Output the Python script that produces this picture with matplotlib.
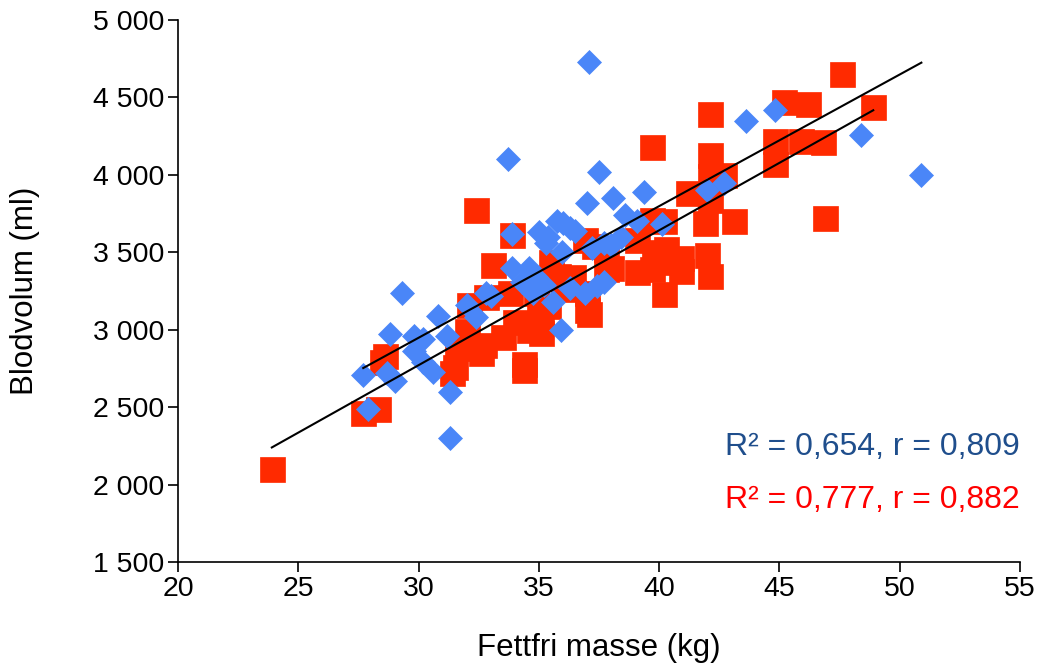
import matplotlib
matplotlib.use("Agg")
import matplotlib.pyplot as plt
from matplotlib.ticker import FuncFormatter, MultipleLocator
import numpy as np

plt.rcParams['font.family'] = ['Liberation Sans', 'DejaVu Sans']

# Red series (squares): fat-free mass (kg), blood volume (ml)
red_x = [23.9, 27.7, 28.3, 28.6, 28.5, 31.4, 31.5, 31.6, 32.0, 32.1, 32.4, 32.6, 32.7,
         32.8, 33.1, 33.5, 33.8, 33.9, 34.0, 34.4, 34.4, 34.6, 34.9, 35.0, 35.1, 35.1,
         35.4, 35.5, 35.8, 36.0, 36.4, 36.9, 37.0, 37.0, 37.1, 37.3, 37.8, 37.8, 38.0,
         39.1, 39.1, 39.7, 39.7, 39.7, 39.8, 40.2, 40.2, 40.3, 40.7, 40.9, 40.9, 41.2,
         41.9, 42.0, 42.1, 42.1, 42.1, 42.1, 42.7, 42.1, 43.1, 44.8, 44.8, 45.2, 45.9,
         46.2, 46.8, 46.9, 47.6, 48.9]
red_y = [2100, 2460, 2490, 2830, 2790, 2720, 2760, 2880, 2990, 3160, 3770, 2850, 2900,
         3210, 3420, 2950, 3240, 3610, 3050, 2780, 2740, 3000, 3240, 3100, 2980, 3080,
         3150, 3440, 3350, 3260, 3340, 3580, 3240, 3130, 3100, 3540, 3390, 3520, 3400,
         3370, 3580, 4180, 3710, 3390, 3500, 3700, 3230, 3520, 3440, 3460, 3380, 3880,
         3690, 3480, 3350, 4390, 4130, 3990, 4000, 3840, 3700, 4220, 4070, 4470, 4220,
         4460, 4210, 3720, 4650, 4440]

# Blue series (diamonds)
blue_x = [27.7, 27.9, 28.7, 28.8, 29.0, 29.3, 29.8, 29.8, 30.2, 30.2, 30.6, 30.8, 31.2,
          31.3, 31.3, 32.0, 32.4, 32.8, 33.0, 33.7, 33.9, 33.9, 34.3, 34.6, 34.75, 34.9,
          35.0, 35.2, 35.3, 35.4, 35.6, 35.75, 35.9, 35.95, 36.0, 36.3, 36.3, 36.5, 36.9,
          37.0, 37.1, 37.2, 37.4, 37.5, 37.7, 37.7, 38.0, 38.1, 38.4, 38.6, 39.1, 39.35,
          40.1, 42.0, 42.7, 43.6, 44.8, 48.4, 50.9]
blue_y = [2710, 2490, 2720, 2970, 2670, 3240, 2960, 2860, 2940, 2790, 2730, 3090, 2960,
          2600, 2300, 3160, 3080, 3240, 3220, 4100, 3620, 3400, 3310, 3400, 3240, 3340,
          3630, 3290, 3560, 3600, 3180, 3700, 3000, 3500, 3690, 3660, 3270, 3640, 3240,
          3820, 4730, 3530, 3280, 4020, 3310, 3560, 3550, 3850, 3600, 3740, 3700, 3890,
          3680, 3900, 3950, 4350, 4420, 4260, 4000]

# Linear trend lines (slope ml/kg, intercept ml)
red_slope, red_intercept = 87.1, 158.0
blue_slope, blue_intercept = 85.0, 398.0

stats_blue = "R² = 0,654, r = 0,809"
stats_red = "R² = 0,777, r = 0,882"

RED = "#FF2A00"
BLUE = "#4A86F8"

fig = plt.figure(figsize=(10.38, 6.68), dpi=100)
ax = fig.add_axes([178/1038, 1 - 562/668, (1020-178)/1038, (562-20)/668])

ax.plot(red_x, red_y, linestyle='none', marker='s', markersize=18,
        markerfacecolor=RED, markeredgecolor=RED, markeredgewidth=0.5, zorder=2)
ax.plot(blue_x, blue_y, linestyle='none', marker='D', markersize=12.2,
        markerfacecolor=BLUE, markeredgecolor=BLUE, markeredgewidth=0.5, zorder=3)

rx = np.array([min(red_x), max(red_x)])
bx = np.array([min(blue_x), max(blue_x)])
ax.plot(rx, red_slope * rx + red_intercept, color='black', lw=1.5, zorder=4)
ax.plot(bx, blue_slope * bx + blue_intercept, color='black', lw=1.5, zorder=4)

ax.set_xlim(20, 55)
ax.set_ylim(1500, 5000)
ax.xaxis.set_major_locator(MultipleLocator(5))
ax.yaxis.set_major_locator(MultipleLocator(500))
ax.yaxis.set_major_formatter(FuncFormatter(lambda v, p: f"{v:,.0f}".replace(",", " ")))

for s in ['top', 'right']:
    ax.spines[s].set_visible(False)
for s in ['left', 'bottom']:
    ax.spines[s].set_linewidth(1.2)
    ax.spines[s].set_color('black')
ax.tick_params(axis='both', direction='out', length=7, width=1.2, labelsize=20.5, pad=3)

ax.set_xlabel("Fettfri masse (kg)", fontsize=22.5)
ax.set_ylabel("Blodvolum (ml)", fontsize=22.5)
ax.xaxis.set_label_coords(0.5, -0.159)
ax.yaxis.set_label_coords(-0.182, 0.5)
ax.xaxis.label.set_va('center')
ax.yaxis.label.set_va('center')

ax.text(1.0, 0.212, stats_blue, transform=ax.transAxes, ha='right', va='center',
        fontsize=23, color='#1F4E8C')
ax.text(1.0, 0.114, stats_red, transform=ax.transAxes, ha='right', va='center',
        fontsize=23, color='#FF0000')

fig.savefig("out.png", dpi=100)
